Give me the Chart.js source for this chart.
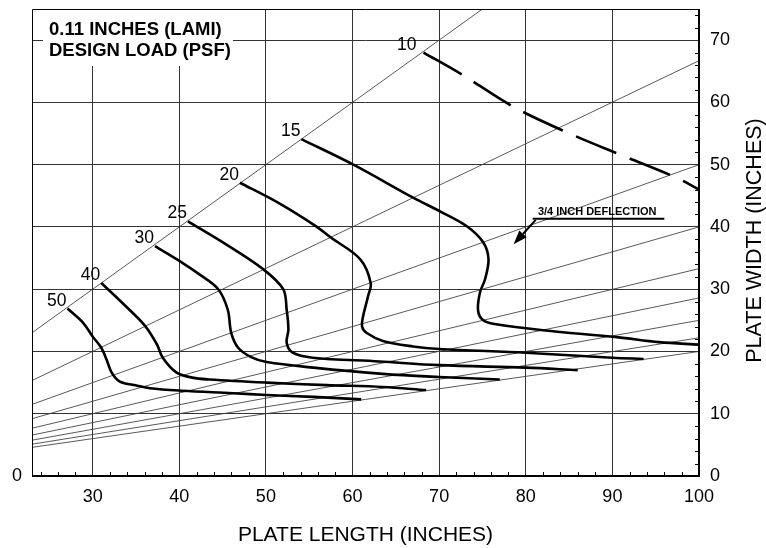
<!DOCTYPE html>
<html><head><meta charset="utf-8">
<script src="https://cdn.jsdelivr.net/npm/chart.js@4.4.0/dist/chart.umd.min.js"></script>
<style>html,body{margin:0;padding:0;background:#fff;}canvas{display:block;}</style>
</head><body>
<canvas id="c" width="766" height="548"></canvas>
<script>
// ---- data ----
const xRange = [23, 100];
const yRange = [0, 75];
const designLoads = ['50', '40', '30', '25', '20', '15', '10'];
const load50 = [[27.1,26.9],[28.9,24.6],[30.0,22.4],[31.0,20.6],[31.6,18.7],[32.2,16.6],[33.1,15.2],[34.8,14.6],[36.6,14.1],[40.3,13.7],[46.2,13.3],[50.1,13.0],[55.5,12.7],[61.0,12.3]];
const load40 = [[31.0,31.0],[33.5,27.7],[36.0,24.2],[37.4,21.2],[38.1,19.0],[39.7,16.6],[41.5,15.8],[43.5,15.5],[50.1,15.0],[57.0,14.6],[63.5,14.3],[68.5,13.8]];
const load30 = [[37.2,36.9],[40.4,34.2],[42.2,32.5],[44.5,30.0],[45.6,26.7],[46.0,23.0],[46.8,20.6],[48.3,19.1],[50.1,18.3],[55.5,17.4],[63.5,16.4],[70.0,15.9],[77.0,15.5]];
const load25 = [[41.0,40.9],[45.4,37.2],[49.7,33.2],[52.0,30.0],[52.4,26.7],[52.6,23.5],[52.4,21.4],[53.1,19.8],[55.4,19.0],[63.1,18.4],[70.0,17.8],[80.0,17.4],[86.0,17.0]];
const load20 = [[47.0,47.1],[51.4,43.9],[55.8,40.1],[57.5,38.3],[60.9,34.8],[62.1,31.0],[61.8,28.9],[61.2,25.5],[61.1,24.0],[61.6,23.0],[63.5,21.7],[67.0,20.8],[70.0,20.4],[80.0,19.8],[90.0,19.0],[93.6,18.8]];
const load15 = [[54.1,54.1],[60.1,50.0],[67.0,44.7],[70.1,42.5],[73.2,40.1],[75.1,37.5],[75.7,34.8],[75.3,31.6],[74.7,29.4],[74.5,26.5],[75.1,25.0],[76.4,24.4],[82.0,23.4],[90.5,22.3],[95.4,21.5],[100.0,21.1]];
const load10 = [[68.2,68.0],[72.6,64.5],[78.7,59.2],[84.9,55.1],[91.1,51.5],[97.4,47.9],[100.0,46.0]];
// aspect-ratio guide lines: width at x=23 and at x=100
const rayStartY = [23, 15.33, 11.5, 9.2, 7.67, 6.57, 5.75, 5.11, 4.6];
const rayEndY   = [100, 66.7, 50, 40, 33.3, 28.6, 25, 22.2, 20];
const titleLines = ['0.11 INCHES (LAMI)', 'DESIGN LOAD (PSF)'];
const deflectionNote = '3/4 INCH DEFLECTION';
const xTitle = 'PLATE LENGTH (INCHES)';
const yTitle = 'PLATE WIDTH (INCHES)';

const FONT = "'Liberation Sans', Arial, Helvetica, sans-serif";
Chart.defaults.font.family = FONT;
Chart.defaults.color = '#000';

const curves = [load50, load40, load30, load25, load20, load15, load10];
const toPts = arr => arr.map(p => ({x: p[0], y: p[1]}));

const datasets = [];
curves.forEach((c, i) => {
  datasets.push({
    label: designLoads[i],
    data: toPts(c),
    showLine: true,
    borderColor: '#000',
    borderWidth: 2.6,
    borderDash: designLoads[i] === '10' ? [44, 14] : [],
    pointRadius: 0,
    tension: 0.35,
    fill: false
  });
});
rayStartY.forEach((y0, i) => {
  datasets.push({
    label: 'ray' + i,
    data: [{x: xRange[0], y: y0}, {x: xRange[1], y: rayEndY[i]}],
    showLine: true,
    borderColor: 'rgba(60,60,60,0.85)',
    borderWidth: 1,
    pointRadius: 0,
    tension: 0
  });
});

const decor = {
  id: 'decor',
  beforeDatasetsDraw(chart) {
    const {ctx, chartArea: a} = chart;
    ctx.save();
    ctx.fillStyle = '#fff';
    ctx.fillRect(a.left + 11, a.top + 1, 190, 56);
    ctx.fillStyle = '#000';
    ctx.font = 'bold 18.5px ' + FONT;
    ctx.textAlign = 'left';
    ctx.textBaseline = 'alphabetic';
    ctx.fillText(titleLines[0], a.left + 17, a.top + 26);
    ctx.fillText(titleLines[1], a.left + 17, a.top + 47);
    ctx.restore();
  },
  afterDatasetsDraw(chart) {
    const {ctx, chartArea: a, scales: {x, y}} = chart;
    ctx.save();
    // frame
    ctx.strokeStyle = '#000';
    ctx.lineWidth = 1;
    ctx.beginPath();
    ctx.moveTo(a.left + 0.5, a.bottom); ctx.lineTo(a.left + 0.5, a.top + 0.5);
    ctx.lineTo(a.right, a.top + 0.5);
    ctx.stroke();
    ctx.lineWidth = 2;
    ctx.beginPath();
    ctx.moveTo(a.right, a.top); ctx.lineTo(a.right, a.bottom); ctx.lineTo(a.left, a.bottom);
    ctx.stroke();
    // minor ticks (inward)
    ctx.lineWidth = 1;
    ctx.beginPath();
    for (let v = 24; v < 100; v += 2) {
      if (v % 10 === 0) continue;
      const px = Math.round(x.getPixelForValue(v)) + 0.5;
      ctx.moveTo(px, a.bottom); ctx.lineTo(px, a.bottom - 4);
    }
    for (let v = 2; v < 75; v += 2) {
      if (v % 10 === 0) continue;
      const py = Math.round(y.getPixelForValue(v)) + 0.5;
      ctx.moveTo(a.right, py); ctx.lineTo(a.right - 4, py);
    }
    ctx.stroke();
    // design load labels at curve starts
    ctx.font = '17.5px ' + FONT;
    ctx.textAlign = 'right';
    ctx.textBaseline = 'alphabetic';
    curves.forEach((c, i) => {
      const px = x.getPixelForValue(c[0][0]);
      const py = y.getPixelForValue(c[0][1]);
      const dx = designLoads[i] === '10' ? -7 : -1;
      ctx.fillText(designLoads[i], px + dx, py - 3);
    });
    // deflection annotation
    const ux0 = x.getPixelForValue(80.8), ux1 = x.getPixelForValue(96.0), uy = y.getPixelForValue(41.3);
    ctx.font = 'bold 11px ' + FONT;
    ctx.textAlign = 'left';
    ctx.fillText(deflectionNote, x.getPixelForValue(81.4), y.getPixelForValue(41.85));
    ctx.lineWidth = 2;
    ctx.beginPath();
    ctx.moveTo(ux0, uy); ctx.lineTo(ux1, uy);
    ctx.stroke();
    const tx = x.getPixelForValue(78.6), ty = y.getPixelForValue(37.2);
    const sx = ux0 + 3, sy = uy + 1;
    const ang = Math.atan2(ty - sy, tx - sx);
    const hl = 14, hw = 5;
    const bx = tx - hl * Math.cos(ang), by = ty - hl * Math.sin(ang);
    ctx.beginPath();
    ctx.moveTo(sx, sy); ctx.lineTo(bx, by); ctx.stroke();
    ctx.beginPath();
    ctx.moveTo(tx, ty);
    ctx.lineTo(bx + hw * Math.sin(ang), by - hw * Math.cos(ang));
    ctx.lineTo(bx - hw * Math.sin(ang), by + hw * Math.cos(ang));
    ctx.closePath();
    ctx.fillStyle = '#000';
    ctx.fill();
    // right axis title (reads bottom-to-top)
    ctx.font = '21.5px ' + FONT;
    ctx.textAlign = 'center';
    ctx.textBaseline = 'alphabetic';
    ctx.translate(a.right + 62, (a.top + a.bottom) / 2 - 2);
    ctx.rotate(-Math.PI / 2);
    ctx.fillText(yTitle, 0, 0);
    ctx.restore();
  }
};

new Chart(document.getElementById('c'), {
  type: 'scatter',
  data: {datasets},
  options: {
    responsive: false,
    animation: false,
    events: [],
    layout: {padding: {top: 9, left: 0, right: 0, bottom: 0}},
    plugins: {legend: {display: false}, tooltip: {enabled: false}},
    scales: {
      x: {
        type: 'linear', position: 'bottom', min: xRange[0], max: xRange[1],
        ticks: {stepSize: 10, includeBounds: false, font: {size: 18}, color: '#000', padding: 10, maxRotation: 0},
        grid: {color: '#333', lineWidth: 1, drawTicks: false},
        border: {display: false},
        title: {display: true, text: xTitle, font: {size: 21}, color: '#000', padding: {top: 0, bottom: 0}},
        afterFit: s => { s.height = 72; s.paddingLeft = 0; s.paddingRight = 0; }
      },
      y: {
        type: 'linear', position: 'right', min: yRange[0], max: yRange[1],
        ticks: {stepSize: 10, includeBounds: false, font: {size: 18}, color: '#000', padding: 11},
        grid: {color: '#333', lineWidth: 1, drawTicks: false},
        border: {display: false},
        afterFit: s => { s.width = 67; s.paddingTop = 0; s.paddingBottom = 0; }
      },
      yL: {
        type: 'linear', position: 'left', min: yRange[0], max: yRange[1],
        ticks: {stepSize: 10, includeBounds: false, font: {size: 18}, color: '#000', padding: 10,
                callback: v => (v === 0 ? '0' : '')},
        grid: {display: false, drawTicks: false},
        border: {display: false},
        afterFit: s => { s.width = 32; s.paddingTop = 0; s.paddingBottom = 0; }
      }
    }
  },
  plugins: [decor]
});
</script>
</body></html>
